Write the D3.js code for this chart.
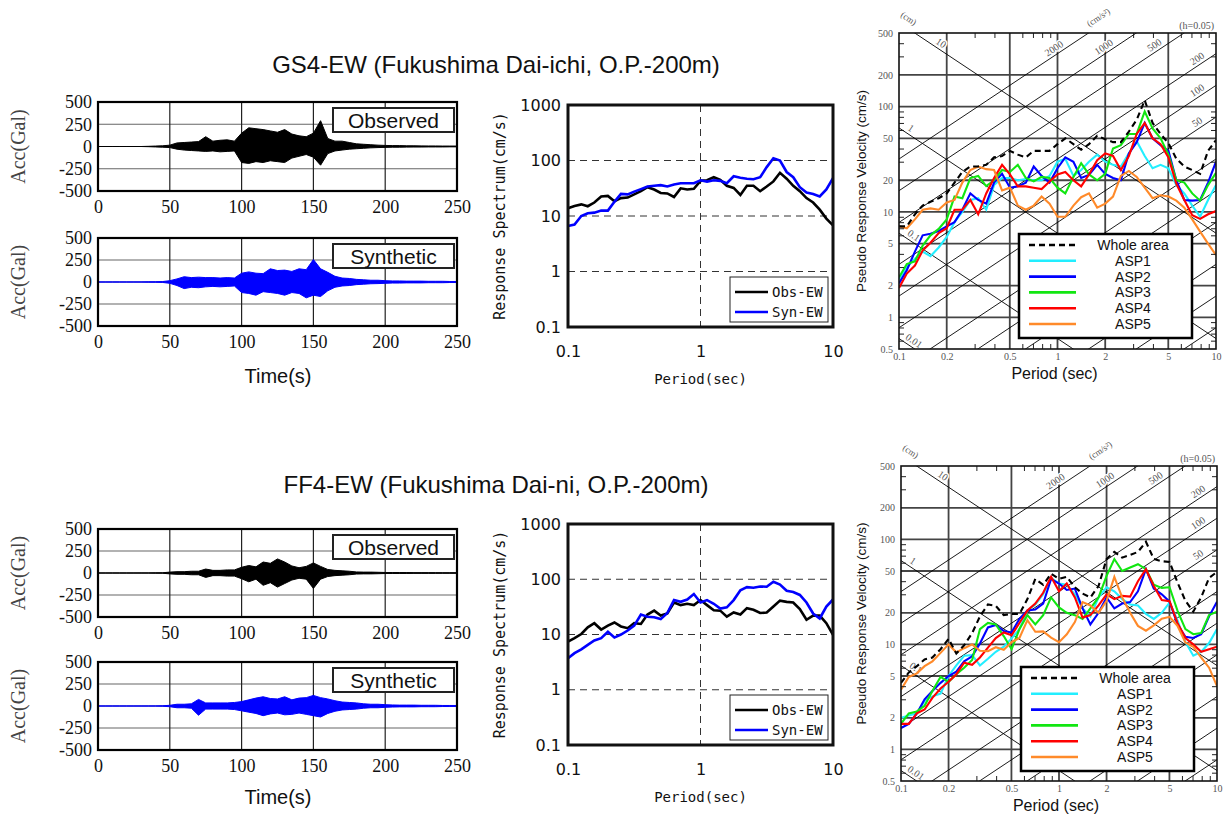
<!DOCTYPE html>
<html>
<head>
<meta charset="utf-8">
<script src="https://cdn.jsdelivr.net/npm/d3@7"></script>
<style>
  body { margin: 0; background: #fff; }
  svg { display: block; }
</style>
</head>
<body>
<svg id="chart" width="1224" height="816"></svg>
<script>
// ---- waveforms: peak envelope read every 5 s (Gal)
const waveTime = [0, 5, 10, 15, 20, 25, 30, 35, 40, 45, 50, 55, 60, 65, 70, 75, 80, 85, 90, 95, 100,
  105, 110, 115, 120, 125, 130, 135, 140, 145, 150, 155, 160, 165, 170, 175, 180, 185, 190, 195, 200,
  205, 210, 215, 220, 225, 230, 235, 240, 245, 250]
const waveXTicks = [0, 50, 100, 150, 200, 250]
const waveYTicks = [500, 250, 0, -250, -500]

const gs4ObsUp = [0, 0, 0, 0, 0, 0, 0, 2, 5, 8, 15, 40, 45, 50, 55, 110, 60, 70, 75, 60, 150, 210, 200, 190, 175, 160, 190, 140, 120, 110, 150, 290, 90, 60, 60, 45, 30, 25, 20, 15, 12, 10, 10, 8, 8, 7, 6, 6, 5, 5, 5]
const gs4ObsDown = [0, 0, 0, 0, 0, 0, 0, -2, -5, -8, -12, -30, -40, -45, -50, -55, -50, -60, -55, -50, -180, -190, -170, -180, -160, -170, -180, -130, -110, -90, -120, -210, -80, -50, -40, -30, -25, -20, -15, -12, -10, -8, -8, -7, -6, -6, -5, -5, -5, -4, -4]
const gs4SynUp = [1, 1, 1, 1, 1, 1, 1, 2, 3, 5, 15, 35, 60, 50, 55, 50, 50, 45, 50, 45, 100, 115, 100, 95, 150, 130, 135, 120, 150, 140, 255, 150, 110, 65, 45, 40, 30, 25, 20, 20, 15, 12, 12, 10, 10, 10, 8, 8, 8, 6, 6]
const gs4SynDown = [-1, -1, -1, -1, -1, -1, -1, -2, -3, -5, -15, -40, -75, -60, -65, -55, -50, -55, -50, -45, -120, -130, -150, -110, -120, -130, -150, -120, -130, -180, -150, -165, -100, -60, -45, -40, -30, -25, -20, -18, -15, -12, -12, -10, -10, -10, -8, -8, -8, -6, -6]
const ff4ObsUp = [0, 0, 0, 0, 0, 0, 1, 1, 2, 3, 10, 15, 15, 20, 20, 45, 30, 30, 35, 35, 65, 85, 70, 125, 110, 160, 125, 80, 60, 75, 115, 75, 40, 30, 25, 20, 12, 10, 10, 8, 6, 5, 5, 5, 4, 4, 4, 4, 3, 3, 3]
const ff4ObsDown = [0, 0, 0, 0, 0, 0, -1, -1, -2, -3, -10, -15, -15, -20, -20, -50, -30, -30, -35, -35, -65, -100, -70, -140, -110, -160, -120, -80, -60, -70, -175, -70, -40, -30, -25, -20, -12, -10, -10, -8, -6, -5, -5, -5, -4, -4, -4, -4, -3, -3, -3]
const ff4SynUp = [0, 0, 0, 0, 0, 0, 0, 0, 1, 3, 8, 20, 20, 25, 75, 35, 35, 35, 35, 40, 50, 70, 90, 105, 85, 80, 105, 70, 90, 95, 120, 95, 80, 60, 45, 40, 35, 25, 20, 20, 15, 12, 10, 10, 10, 8, 8, 8, 6, 6, 6]
const ff4SynDown = [0, 0, 0, 0, 0, 0, 0, 0, -1, -3, -8, -20, -20, -25, -105, -35, -35, -35, -35, -40, -55, -70, -85, -110, -90, -80, -100, -95, -80, -95, -110, -125, -85, -60, -45, -40, -35, -25, -20, -20, -15, -12, -10, -10, -10, -8, -8, -8, -6, -6, -6]

// ---- response spectra (cm/s) on a shared period grid (sec)
const periods = [0.1, 0.112, 0.126, 0.141, 0.158, 0.178, 0.2, 0.224, 0.251, 0.282, 0.316, 0.355, 0.398, 0.447,
  0.501, 0.562, 0.631, 0.708, 0.794, 0.891, 1, 1.12, 1.26, 1.41, 1.58, 1.78, 2, 2.24, 2.51, 2.82, 3.16,
  3.55, 3.98, 4.47, 5.01, 5.62, 6.31, 7.08, 7.94, 8.91, 10]
const specXTicks = [0.1, 1, 10]
const specYTicks = [0.1, 1, 10, 100, 1000]

const gs4Obs = [13.8, 15.2, 16.2, 15, 17.5, 22.5, 23, 18.5, 21, 21.5, 24.5, 28, 33, 30, 26, 25.5, 22, 31.5, 30, 31, 43, 44, 50, 45, 35, 32, 24, 35, 35, 28, 34, 42, 60, 47, 35, 28, 21, 17.5, 13, 9, 6.8]
const gs4Syn = [6.6, 7, 10, 11.2, 11.5, 12.5, 12.5, 18, 25, 24.5, 27.5, 30.5, 34, 35, 36, 34, 37, 39, 39, 39, 44, 41.6, 44, 43, 39, 52, 49, 47, 46, 50, 76, 110, 100, 62, 50, 33, 26.5, 25, 22.5, 30, 48]
const ff4Obs = [7.4, 8.6, 10.2, 13.5, 16, 12.3, 14.5, 16.5, 14, 13, 16, 15.5, 23, 27, 22, 24, 38, 34, 36, 34, 42, 34, 27.5, 27, 21, 25, 23, 30, 28, 24.5, 25, 32, 41, 39, 38, 29, 18.5, 22, 22, 16, 9.8]
const ff4Syn = [3.7, 4.6, 5.4, 6.5, 7.8, 8.6, 11.2, 8.8, 10, 11.8, 14.5, 23, 21, 20.5, 19, 24.5, 42, 39, 43, 54, 38, 42, 36, 29.5, 31, 42, 63, 72, 70, 74, 73, 90, 80, 62, 58.7, 52, 38, 24, 19.5, 32, 43]

// ---- pseudo velocity response spectra (cm/s), h=0.05
const psvXTicks = [0.1, 0.2, 0.5, 1, 2, 5, 10]
const psvYTicks = [0.5, 1, 2, 5, 10, 20, 50, 100, 200, 500]
const psvXMinor = [0.3, 0.4, 0.6, 0.7, 0.8, 0.9, 3, 4, 6, 7, 8, 9]
const psvYMinor = [0.6, 0.7, 0.8, 0.9, 3, 4, 6, 7, 8, 9, 30, 40, 60, 70, 80, 90, 300, 400]
const dispLines = [10, 1, 0.1, 0.01]                                   // cm
const accLines = [0.5, 1, 2, 5, 10, 20, 50, 100, 200, 500, 1000, 2000] // cm/s2
const psvNames = ['Whole area', 'ASP1', 'ASP2', 'ASP3', 'ASP4', 'ASP5']

const gs4Whole = [7.3, 7.3, 9.5, 11.5, 12.5, 13.5, 15, 19, 24, 27, 27, 28, 33, 34, 38, 35, 33, 38, 38, 38, 44, 50, 44, 39, 44, 53, 49, 46, 46, 58, 75, 115, 70, 55, 45, 32, 27, 25, 23, 38, 48]
const gs4Asp1 = [2.3, 3.0, 3.6, 4.2, 3.8, 4.6, 5.8, 8, 10, 13, 13.5, 10.5, 18, 21, 21, 20, 20.5, 20, 20, 22, 30, 32, 22, 25, 30, 35, 30, 28, 27, 36, 47, 34, 26, 28, 26, 18, 15, 11.5, 9, 13, 18]
const gs4Asp2 = [2.1, 2.8, 4.2, 6.0, 6.2, 6.6, 7.3, 8, 10.5, 15, 13, 12, 19, 23, 17, 17.5, 19, 27, 22, 19, 26, 33, 30, 21, 22.5, 28, 23, 21, 20, 36, 46, 70, 50, 43, 38, 20, 13, 12.8, 13, 19, 30]
const gs4Asp3 = [2.4, 3.2, 3.4, 4.8, 6.0, 6.9, 8.5, 14, 13.5, 21, 22, 17.6, 20, 25, 24, 28, 21, 19.5, 21.5, 21, 17, 15, 21.5, 29, 22.7, 20, 23, 40, 43, 55, 55, 90, 62, 50, 35, 20, 19, 15, 12.8, 18, 23.5]
const gs4Asp4 = [1.9, 2.6, 3.1, 4.3, 5.1, 6.3, 7, 10.5, 10.5, 13, 9.5, 15, 21, 28, 22.7, 17.5, 17.5, 17, 16.5, 19.5, 22.7, 24, 20, 17.5, 22.7, 31, 36, 34, 25, 34, 55, 70, 50, 44, 33, 18.5, 13, 9.3, 8.6, 9.5, 10.2]
const gs4Asp5 = [7.3, 7.0, 8.5, 10.5, 10.8, 10.5, 12.3, 13, 19, 25, 27, 25.5, 25, 16, 17, 11.5, 10.5, 11.5, 14, 12, 9, 9, 11.5, 13.8, 15, 11, 12, 14, 22, 24.5, 21.5, 17, 13.5, 14.4, 14, 12.8, 11, 8.5, 6.5, 5, 3.9]

const ff4Whole = [4.3, 5.4, 6.2, 7.2, 7.5, 9, 11.3, 8.2, 9.8, 12.8, 18.5, 24, 23.3, 19, 19.5, 19.5, 27, 42, 37, 47, 42, 44, 35, 30.5, 28, 36, 65, 76, 67, 71, 76, 95, 65, 62, 61, 39, 26, 20.5, 28, 43, 49]
const ff4Asp1 = [2.0, 2.1, 2.2, 2.9, 3.2, 3.4, 5.0, 6.3, 7.8, 7.9, 6.3, 7.3, 8.5, 9.5, 11.4, 14, 21, 24, 30, 43, 38, 37, 30, 22, 18.5, 28, 35, 32, 27, 24, 23.5, 19.5, 17.5, 20, 25, 17, 10.5, 7.8, 8.5, 10.3, 14]
const ff4Asp2 = [1.6, 1.75, 2.2, 3.0, 3.6, 4.3, 5.0, 5.5, 6.9, 7.7, 10.2, 14.5, 15.3, 13.4, 13, 17.5, 21, 21.5, 24.5, 42, 38, 33, 34, 22, 15.5, 20, 28, 22, 24.5, 25.3, 32, 52, 34, 30, 25.5, 15.5, 11.8, 11.5, 12.5, 18.5, 25.5]
const ff4Asp3 = [1.75, 2.2, 2.3, 2.6, 3.6, 4.9, 4.4, 5.2, 6.0, 7.1, 14, 16, 15.5, 12, 9, 14, 19, 15.5, 19, 28, 22.5, 20, 19, 17.5, 22, 28, 45, 65, 50, 54, 58, 52, 37, 34.5, 35, 21, 14, 12.5, 12.8, 19, 20.5]
const ff4Asp4 = [1.75, 1.75, 2.2, 2.4, 3.1, 3.8, 4.4, 5.2, 6.7, 6.4, 7.5, 9.3, 11.5, 13, 12.2, 16, 21, 24.5, 31, 44, 32, 38, 28, 18, 19, 23.5, 30, 27, 29, 28.5, 40, 52, 36, 26.5, 25.8, 16, 11.5, 10, 8.5, 9, 9.5]
const ff4Asp5 = [3.7, 4.9, 5.3, 6.2, 6.9, 8.3, 10, 8.4, 9.2, 10, 8.7, 8.6, 9.4, 8.9, 10.5, 11.5, 17, 13.2, 13.3, 11.6, 10.5, 12.5, 16.3, 25.3, 23.5, 20, 26, 44, 28, 20, 15, 13.5, 15.2, 17.6, 18.3, 15, 10.4, 9.5, 7.5, 6, 4]

// line styles for the psv series, same order as psvNames
const psvStyle = [
  { color: '#000', dash: '6,4' },
  { color: '#22eeff', dash: null },
  { color: '#0000ff', dash: null },
  { color: '#11e611', dash: null },
  { color: '#ff0000', dash: null },
  { color: '#ff8a2a', dash: null }
]
// period where each reference line gets its label
const dispLabelAt = { 10: 0.175, 1: 0.113, 0.1: 0.118, 0.01: 0.118 }
const accLabelAt = { 2000: 1.0, 1000: 2.06, 500: 4.3, 200: 8, 100: 8, 50: 8 }

const SANS = '"Liberation Sans", Arial, sans-serif'
const SERIF = '"Liberation Serif", "Times New Roman", serif'
const MONO = '"DejaVu Sans Mono", "Liberation Mono", monospace'

const svg = d3.select('#chart')
svg.append('rect').attr('width', 1224).attr('height', 816).attr('fill', '#fff')

function drawTitle(x, y, txt) {
  svg.append('text').attr('x', x).attr('y', y).attr('text-anchor', 'middle')
    .style('font', `24px ${SANS}`).attr('fill', '#111').text(txt)
}

function drawWave(box, up, down, color, tag) {
  const x = d3.scaleLinear().domain([0, 250]).range([box.x0, box.x1])
  const y = d3.scaleLinear().domain([-500, 500]).range([box.y1, box.y0])
  const g = svg.append('g')

  g.selectAll('.hg').data(waveYTicks.filter(v => Math.abs(v) < 500)).enter().append('line')
    .attr('class', 'hg')
    .attr('x1', box.x0).attr('x2', box.x1)
    .attr('y1', d => y(d)).attr('y2', d => y(d))
    .attr('stroke', '#666').attr('stroke-width', 1.2)
  g.selectAll('.vg').data(waveXTicks.filter(v => v > 0 && v < 250)).enter().append('line')
    .attr('class', 'vg')
    .attr('x1', d => x(d)).attr('x2', d => x(d))
    .attr('y1', box.y0).attr('y2', box.y1)
    .attr('stroke', '#222').attr('stroke-width', 1.2)

  const area = d3.area()
    .x((d, i) => x(waveTime[i]))
    .y0(d => y(d[1]))
    .y1(d => y(d[0]))
  g.append('path')
    .datum(up.map((u, i) => [u, down[i]]))
    .attr('d', area)
    .attr('fill', color)
    .attr('stroke', color)
    .attr('stroke-width', 1)

  g.append('rect')
    .attr('x', box.x0).attr('y', box.y0)
    .attr('width', box.x1 - box.x0).attr('height', box.y1 - box.y0)
    .attr('fill', 'none').attr('stroke', '#000').attr('stroke-width', 2.2)

  g.append('g').attr('transform', `translate(${box.x0},0)`)
    .call(d3.axisLeft(y).tickValues(waveYTicks).tickSize(0).tickPadding(6).tickFormat(d => String(d)))
    .call(a => a.select('.domain').remove())
    .selectAll('text').style('font', `18px ${SERIF}`).attr('fill', '#111')
  g.append('g').attr('transform', `translate(0,${box.y1})`)
    .call(d3.axisBottom(x).tickValues(waveXTicks).tickSize(0).tickPadding(9).tickFormat(d => String(d)))
    .call(a => a.select('.domain').remove())
    .selectAll('text').style('font', `18px ${SERIF}`).attr('fill', '#111')

  g.append('rect')
    .attr('x', box.x1 - 124).attr('y', box.y0 + 6)
    .attr('width', 121).attr('height', 24)
    .attr('fill', '#fff').attr('stroke', '#222').attr('stroke-width', 2)
  g.append('text')
    .attr('x', box.x1 - 63.5).attr('y', box.y0 + 25.5)
    .attr('text-anchor', 'middle')
    .style('font', `21px ${SANS}`).attr('fill', '#111')
    .text(tag)

  g.append('text')
    .attr('transform', `translate(25,${(box.y0 + box.y1) / 2}) rotate(-90)`)
    .attr('text-anchor', 'middle')
    .style('font', `20px ${SERIF}`).attr('fill', '#444')
    .text('Acc(Gal)')
}

function timeLabel(y) {
  svg.append('text').attr('x', 278).attr('y', y).attr('text-anchor', 'middle')
    .style('font', `20px ${SANS}`).attr('fill', '#111').text('Time(s)')
}

function drawSpec(box, obs, syn) {
  const x = d3.scaleLog().domain([0.1, 10]).range([box.x0, box.x1])
  const y = d3.scaleLog().domain([0.1, 1000]).range([box.y1, box.y0])
  const g = svg.append('g')

  g.selectAll('.hg').data([1, 10, 100]).enter().append('line')
    .attr('class', 'hg')
    .attr('x1', box.x0).attr('x2', box.x1)
    .attr('y1', d => y(d)).attr('y2', d => y(d))
    .attr('stroke', '#333').attr('stroke-width', 1).attr('stroke-dasharray', '7,5')
  g.append('line')
    .attr('x1', x(1)).attr('x2', x(1)).attr('y1', box.y0).attr('y2', box.y1)
    .attr('stroke', '#333').attr('stroke-width', 1).attr('stroke-dasharray', '7,5')

  const line = d3.line().x((d, i) => x(periods[i])).y(d => y(d))
  g.append('path').datum(obs).attr('d', line)
    .attr('fill', 'none').attr('stroke', '#000').attr('stroke-width', 2.6)
  g.append('path').datum(syn).attr('d', line)
    .attr('fill', 'none').attr('stroke', '#0000ff').attr('stroke-width', 2.6)

  g.append('rect')
    .attr('x', box.x0).attr('y', box.y0)
    .attr('width', box.x1 - box.x0).attr('height', box.y1 - box.y0)
    .attr('fill', 'none').attr('stroke', '#111').attr('stroke-width', 3)

  g.append('g').attr('transform', `translate(${box.x0},0)`)
    .call(d3.axisLeft(y).tickValues(specYTicks).tickSize(0).tickPadding(7).tickFormat(d => String(d)))
    .call(a => a.select('.domain').remove())
    .selectAll('text').style('font', `16px "DejaVu Sans", sans-serif`).attr('fill', '#111')
  g.append('g').attr('transform', `translate(0,${box.y1})`)
    .call(d3.axisBottom(x).tickValues(specXTicks).tickSize(0).tickPadding(19).tickFormat(d => String(d)))
    .call(a => a.select('.domain').remove())
    .selectAll('text').style('font', `16px "DejaVu Sans", sans-serif`).attr('fill', '#111')

  g.append('text')
    .attr('x', (box.x0 + box.x1) / 2).attr('y', box.y1 + 57)
    .attr('text-anchor', 'middle')
    .style('font', `14px ${MONO}`).attr('fill', '#111')
    .text('Period(sec)')
  g.append('text')
    .attr('transform', `translate(505,${(box.y0 + box.y1) / 2}) rotate(-90)`)
    .attr('text-anchor', 'middle')
    .style('font', `15px ${MONO}`).attr('fill', '#111')
    .text('Response Spectrum(cm/s)')

  const lg = g.append('g').attr('transform', `translate(${box.x1 - 103},${box.y1 - 50})`)
  lg.append('rect').attr('width', 98).attr('height', 45)
    .attr('fill', '#fff').attr('stroke', '#222').attr('stroke-width', 1)
  const rows = [['Obs-EW', '#000'], ['Syn-EW', '#0000ff']]
  rows.forEach((r, i) => {
    const yy = 15 + i * 20
    lg.append('line').attr('x1', 5).attr('x2', 38).attr('y1', yy).attr('y2', yy)
      .attr('stroke', r[1]).attr('stroke-width', 2.6)
    lg.append('text').attr('x', 42).attr('y', yy + 5)
      .style('font', `14px ${MONO}`).attr('fill', '#111').text(r[0])
  })
}

function drawPsv(box, id, series) {
  const x = d3.scaleLog().domain([0.1, 10]).range([box.x0, box.x1])
  const y = d3.scaleLog().domain([0.5, 500]).range([box.y1, box.y0])
  const tw = 2 * Math.PI
  const g = svg.append('g')

  g.append('clipPath').attr('id', id).append('rect')
    .attr('x', box.x0).attr('y', box.y0)
    .attr('width', box.x1 - box.x0).attr('height', box.y1 - box.y0)
  const plot = g.append('g').attr('clip-path', `url(#${id})`)

  plot.selectAll('.vg').data([0.2, 0.5, 1, 2, 5]).enter().append('line')
    .attr('class', 'vg')
    .attr('x1', d => x(d)).attr('x2', d => x(d))
    .attr('y1', box.y0).attr('y2', box.y1)
    .attr('stroke', '#444').attr('stroke-width', 1.8)
  plot.selectAll('.hg').data([1, 2, 5, 10, 20, 50, 100, 200]).enter().append('line')
    .attr('class', 'hg')
    .attr('x1', box.x0).attr('x2', box.x1)
    .attr('y1', d => y(d)).attr('y2', d => y(d))
    .attr('stroke', '#444').attr('stroke-width', 1.8)

  // displacement lines Sv = 2*pi*D/T, acceleration lines Sv = A*T/(2*pi)
  plot.selectAll('.dl').data(dispLines).enter().append('line')
    .attr('class', 'dl')
    .attr('x1', x(0.1)).attr('y1', d => y(tw * d / 0.1))
    .attr('x2', x(10)).attr('y2', d => y(tw * d / 10))
    .attr('stroke', '#000').attr('stroke-width', 0.9)
  plot.selectAll('.al').data(accLines).enter().append('line')
    .attr('class', 'al')
    .attr('x1', x(0.1)).attr('y1', d => y(d * 0.1 / tw))
    .attr('x2', x(10)).attr('y2', d => y(d * 10 / tw))
    .attr('stroke', '#000').attr('stroke-width', 0.9)

  const angD = Math.atan2(y(tw / 10) - y(tw / 0.1), x(10) - x(0.1)) * 180 / Math.PI
  const lblStyle = sel => sel
    .attr('text-anchor', 'middle')
    .style('font', `10px ${SERIF}`)
    .attr('fill', '#555')
    .attr('stroke', '#fff').attr('stroke-width', 3).attr('paint-order', 'stroke')
  plot.selectAll('.dt').data(dispLines).enter().append('text')
    .attr('class', 'dt')
    .attr('transform', d => {
      const t = dispLabelAt[d]
      return `translate(${x(t)},${y(tw * d / t)}) rotate(${angD})`
    })
    .attr('y', -3)
    .call(lblStyle)
    .text(d => String(d))
  plot.selectAll('.at').data(accLines.filter(a => accLabelAt[a])).enter().append('text')
    .attr('class', 'at')
    .attr('transform', d => {
      const t = accLabelAt[d]
      return `translate(${x(t)},${y(d * t / tw)}) rotate(${-angD})`
    })
    .attr('y', -3)
    .call(lblStyle)
    .text(d => String(d))

  const line = d3.line().x((d, i) => x(periods[i])).y(d => y(d))
  const order = [1, 2, 3, 4, 5, 0]
  order.forEach(k => {
    plot.append('path').datum(series[k]).attr('d', line)
      .attr('fill', 'none')
      .attr('stroke', psvStyle[k].color)
      .attr('stroke-width', 2.1)
      .attr('stroke-dasharray', psvStyle[k].dash)
  })

  // minor ticks, pointing inward
  const minor = (axis, tx, ty) => g.append('g').attr('transform', `translate(${tx},${ty})`)
    .call(axis.tickSize(-5).tickFormat(''))
    .call(a => a.select('.domain').remove())
    .selectAll('line').attr('stroke', '#222')
  minor(d3.axisLeft(y).tickValues(psvYMinor), box.x0, 0)
  minor(d3.axisRight(y).tickValues(psvYMinor), box.x1, 0)
  minor(d3.axisTop(x).tickValues(psvXMinor), 0, box.y0)
  minor(d3.axisBottom(x).tickValues(psvXMinor), 0, box.y1)

  g.append('rect')
    .attr('x', box.x0).attr('y', box.y0)
    .attr('width', box.x1 - box.x0).attr('height', box.y1 - box.y0)
    .attr('fill', 'none').attr('stroke', '#111').attr('stroke-width', 1.6)

  g.append('g').attr('transform', `translate(${box.x0},0)`)
    .call(d3.axisLeft(y).tickValues(psvYTicks).tickSize(0).tickPadding(6).tickFormat(d => String(d)))
    .call(a => a.select('.domain').remove())
    .selectAll('text').style('font', `10px ${SERIF}`).attr('fill', '#555')
  g.append('g').attr('transform', `translate(0,${box.y1})`)
    .call(d3.axisBottom(x).tickValues(psvXTicks).tickSize(0).tickPadding(4).tickFormat(d => String(d)))
    .call(a => a.select('.domain').remove())
    .selectAll('text').style('font', `10px ${SERIF}`).attr('fill', '#555')

  g.append('text')
    .attr('x', (box.x0 + box.x1) / 2 - 3).attr('y', box.y1 + 30)
    .attr('text-anchor', 'middle')
    .style('font', `16px ${SANS}`).attr('fill', '#111')
    .text('Period (sec)')
  g.append('text')
    .attr('transform', `translate(866,${(box.y0 + box.y1) / 2}) rotate(-90)`)
    .attr('text-anchor', 'middle')
    .style('font', `13.5px ${SANS}`).attr('fill', '#111')
    .text('Pseudo Response Velocity (cm/s)')

  g.append('text')
    .attr('transform', `translate(${box.x0 + 8},${box.y0 - 12}) rotate(${angD})`)
    .attr('text-anchor', 'middle')
    .style('font', `9px ${SERIF}`).attr('fill', '#555')
    .text('(cm)')
  g.append('text')
    .attr('transform', `translate(${box.x0 + 201},${box.y0 - 13}) rotate(${-angD})`)
    .attr('text-anchor', 'middle')
    .style('font', `9px ${SERIF}`).attr('fill', '#555')
    .text('(cm/s²)')
  g.append('text')
    .attr('x', box.x1 - 2).attr('y', box.y0 - 4)
    .attr('text-anchor', 'end')
    .style('font', `10px ${SERIF}`).attr('fill', '#555')
    .text('(h=0.05)')

  const lg = g.append('g').attr('transform', `translate(${box.x0 + 120},${box.y0 + 201})`)
  lg.append('rect').attr('width', 173).attr('height', 104)
    .attr('fill', '#fff').attr('stroke', '#000').attr('stroke-width', 2.5)
  psvNames.forEach((name, i) => {
    const yy = 11 + i * 15.8
    lg.append('line').attr('x1', 10).attr('x2', 57).attr('y1', yy).attr('y2', yy)
      .attr('stroke', psvStyle[i].color).attr('stroke-width', 2.6)
      .attr('stroke-dasharray', psvStyle[i].dash)
    lg.append('text').attr('x', 114).attr('y', yy + 5)
      .attr('text-anchor', 'middle')
      .style('font', `14px ${SANS}`).attr('fill', '#111')
      .text(name)
  })
}

// ---- upper row: GS4-EW
drawTitle(496, 73, 'GS4-EW (Fukushima Dai-ichi, O.P.-200m)')
drawWave({ x0: 98, x1: 457, y0: 102, y1: 191 }, gs4ObsUp, gs4ObsDown, '#000', 'Observed')
drawWave({ x0: 98, x1: 457, y0: 238, y1: 326 }, gs4SynUp, gs4SynDown, '#0000ff', 'Synthetic')
timeLabel(383)
drawSpec({ x0: 568, x1: 833, y0: 105, y1: 327 }, gs4Obs, gs4Syn)
drawPsv({ x0: 899, x1: 1216, y0: 33, y1: 349 }, 'psv1',
  [gs4Whole, gs4Asp1, gs4Asp2, gs4Asp3, gs4Asp4, gs4Asp5])

// ---- lower row: FF4-EW
drawTitle(496, 493, 'FF4-EW (Fukushima Dai-ni, O.P.-200m)')
drawWave({ x0: 98, x1: 457, y0: 529, y1: 617 }, ff4ObsUp, ff4ObsDown, '#000', 'Observed')
drawWave({ x0: 98, x1: 457, y0: 662, y1: 750 }, ff4SynUp, ff4SynDown, '#0000ff', 'Synthetic')
timeLabel(804)
drawSpec({ x0: 568, x1: 833, y0: 524, y1: 745 }, ff4Obs, ff4Syn)
drawPsv({ x0: 901, x1: 1217, y0: 466, y1: 781 }, 'psv2',
  [ff4Whole, ff4Asp1, ff4Asp2, ff4Asp3, ff4Asp4, ff4Asp5])
</script>
</body>
</html>
